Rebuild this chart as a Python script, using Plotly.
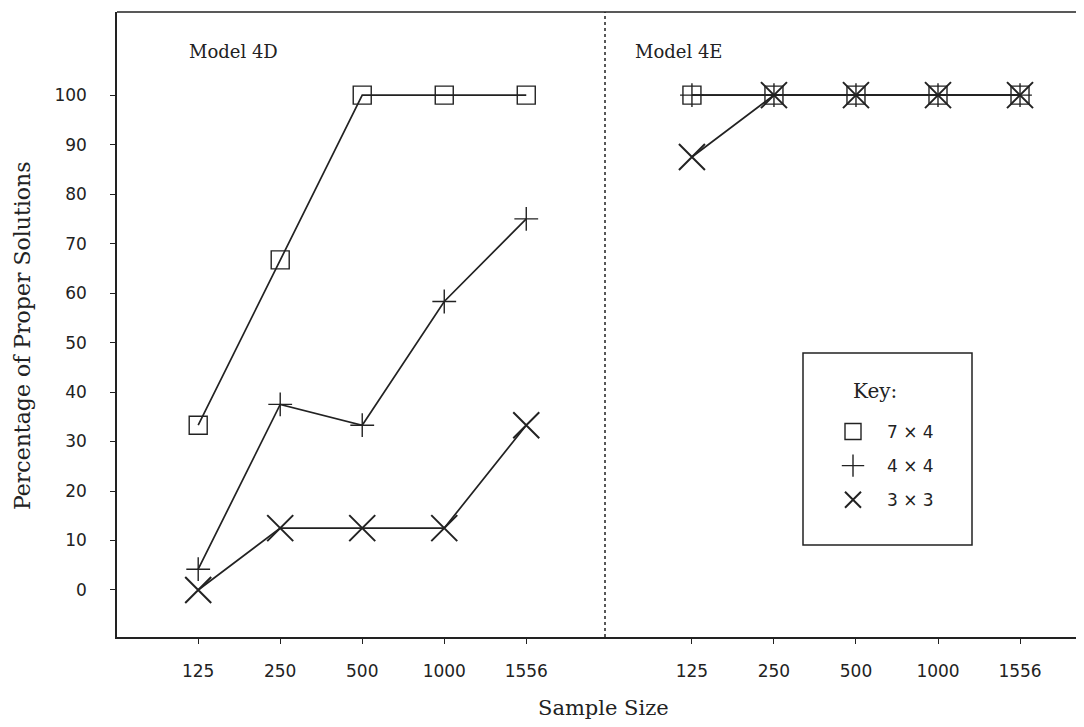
import plotly.graph_objects as go

# ---- data ----
sample_sizes = ["125", "250", "500", "1000", "1556"]
series_names = ["7 \u00d7 4", "4 \u00d7 4", "3 \u00d7 3"]
model_4d_7x4 = [33.3, 66.7, 100, 100, 100]
model_4d_4x4 = [4.2, 37.5, 33.3, 58.3, 75]
model_4d_3x3 = [0, 12.5, 12.5, 12.5, 33.3]
model_4e_7x4 = [100, 100, 100, 100, 100]
model_4e_4x4 = [100, 100, 100, 100, 100]
model_4e_3x3 = [87.5, 100, 100, 100, 100]
y_ticks = [0, 10, 20, 30, 40, 50, 60, 70, 80, 90, 100]

INK = "#222222"
SERIF = "DejaVu Serif"
SANS = "DejaVu Sans"

symbols = ["square-open", "cross-thin-open", "x-thin-open"]
msizes = [18, 17, 26]
mwidths = [1.4, 1.4, 2.0]

OFF = 8  # page body margin
W, H = 1084 - OFF, 727 - OFF
L, R, T, B = 117 - OFF, 0, 12 - OFF, 90
PW, PH = W - L - R, H - T - B


def px_x(x):
    # page pixel -> paper
    return (x - OFF - L) / PW


def px_y(y):
    return (H - B - (y - OFF)) / PH


split = px_x(605)

fig = go.Figure()

panels = [("x", [model_4d_7x4, model_4d_4x4, model_4d_3x3]),
          ("x2", [model_4e_7x4, model_4e_4x4, model_4e_3x3])]
for xa, vals in panels:
    for i, v in enumerate(vals):
        fig.add_trace(go.Scatter(
            x=sample_sizes, y=v, xaxis=xa, yaxis="y",
            mode="lines+markers",
            line=dict(color=INK, width=1.7),
            marker=dict(symbol=symbols[i], size=msizes[i], color=INK,
                        line=dict(color=INK, width=mwidths[i])),
            showlegend=False, name=series_names[i],
        ))

# legend key entries (symbols only)
for i, nm in enumerate(series_names):
    fig.add_trace(go.Scatter(
        x=[None], y=[None], mode="markers", name=nm,
        legendgroup=nm,
        marker=dict(symbol=symbols[i], size=msizes[i], color=INK,
                    line=dict(color=INK, width=mwidths[i])),
        showlegend=True,
    ))

axis_common = dict(
    type="category", categoryorder="array", categoryarray=sample_sizes,
    showline=True, linecolor=INK, linewidth=1.5,
    ticks="outside", ticklen=5, tickcolor=INK, tickwidth=1,
    tickfont=dict(family=SANS, size=17, color=INK),
    ticklabelstandoff=13, showgrid=False, zeroline=False,
)

fig.update_layout(
    width=W, height=H,
    margin=dict(l=L, r=R, t=T, b=B),
    paper_bgcolor="white", plot_bgcolor="white",
    xaxis=dict(domain=[0, split], range=[-0.99, 4.96], anchor="y", **axis_common),
    xaxis2=dict(domain=[split, 1], range=[-1.06, 4.78], anchor="y", **axis_common),
    yaxis=dict(
        range=[-9.5, 116.8], tickvals=y_ticks,
        showline=True, linecolor=INK, linewidth=1.5,
        ticks="outside", ticklen=5, tickcolor=INK,
        tickfont=dict(family=SANS, size=17, color=INK),
        ticklabelstandoff=20, showgrid=False, zeroline=False,
    ),
    showlegend=True,
    legend=dict(
        x=px_x(819), y=px_y(414), xanchor="left", yanchor="top",
        bgcolor="rgba(0,0,0,0)", borderwidth=0,
        font=dict(family=SANS, size=17, color=INK),
        itemwidth=58, traceorder="grouped", tracegroupgap=9,
        itemclick=False, itemdoubleclick=False,
    ),
    shapes=[
        dict(type="line", xref="paper", yref="paper", x0=0, x1=1, y0=1, y1=1,
             line=dict(color=INK, width=1.5)),
        dict(type="line", xref="paper", yref="paper", x0=split, x1=split, y0=0, y1=1,
             line=dict(color=INK, width=1.5, dash="dot")),
        dict(type="rect", xref="paper", yref="paper",
             x0=px_x(803), x1=px_x(972), y0=px_y(545), y1=px_y(353),
             line=dict(color=INK, width=1.5)),
    ],
    annotations=[
        dict(text="Model 4D", xref="paper", yref="paper", x=px_x(187), y=px_y(52),
             xanchor="left", yanchor="middle", showarrow=False,
             font=dict(family=SERIF, size=18, color=INK)),
        dict(text="Model 4E", xref="paper", yref="paper", x=px_x(633), y=px_y(52),
             xanchor="left", yanchor="middle", showarrow=False,
             font=dict(family=SERIF, size=18, color=INK)),
        dict(text="Key:", xref="paper", yref="paper", x=px_x(851), y=px_y(391),
             xanchor="left", yanchor="middle", showarrow=False,
             font=dict(family=SERIF, size=20, color=INK)),
        dict(text="Sample Size", xref="paper", yref="paper", x=px_x(603), y=px_y(708),
             xanchor="center", yanchor="middle", showarrow=False,
             font=dict(family=SERIF, size=21, color=INK)),
        dict(text="Percentage of Proper Solutions", xref="paper", yref="paper",
             x=px_x(22), y=px_y(336), textangle=-90,
             xanchor="center", yanchor="middle", showarrow=False,
             font=dict(family=SERIF, size=22, color=INK)),
    ],
)

fig.write_html("out.html")
